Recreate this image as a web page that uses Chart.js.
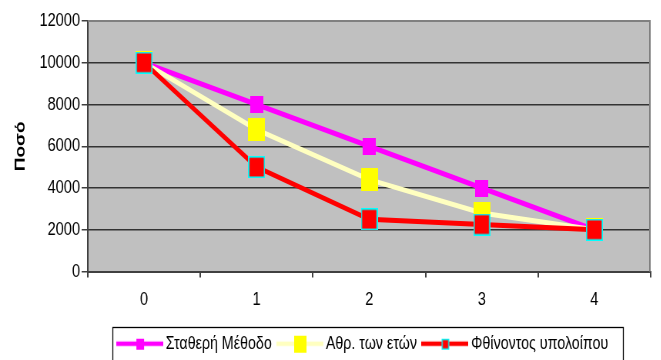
<!DOCTYPE html>
<html>
<head>
<meta charset="utf-8">
<script src="https://cdn.jsdelivr.net/npm/chart.js@4/dist/chart.umd.min.js"></script>
<style>
  html, body { margin: 0; padding: 0; background: #fff; overflow: hidden; }
  #frame { width: 661px; height: 360px; overflow: hidden; position: relative; }
  /* the chart is laid out wide and narrowed horizontally */
  #squeeze { width: 858px; height: 360px; transform: scaleX(0.77); transform-origin: 0 0; }
</style>
</head>
<body>
<div id="frame"><div id="squeeze"><canvas id="chart" width="858" height="360"></canvas></div></div>
<script>
// Depreciation of an asset (cost 10000, residual 2000) over 4 years
const years = ['0', '1', '2', '3', '4'];
const seriesNames = ['Σταθερή Μέθοδο', 'Αθρ. των ετών', 'Φθίνοντος υπολοίπου'];
const straightLine = [10000, 8000, 6000, 4000, 2000];
const sumOfYears = [10000, 6800, 4400, 2800, 2000];
const decliningBalance = [10000, 5000, 2500, 2250, 2000];
const yTickValues = [0, 2000, 4000, 6000, 8000, 10000, 12000];
const yTitle = 'Ποσό';

const FONT = "'Liberation Sans', Arial, sans-serif";
const LEGEND_SHIFT = -6;   // nudges the legend row a little to the left

// rectangular marker drawn on a small canvas, used as a point style
function rectMarker(w, h, fill, edge, edgeW) {
  const c = document.createElement('canvas');
  c.width = w; c.height = h;
  const g = c.getContext('2d');
  g.fillStyle = fill;
  g.fillRect(0, 0, w, h);
  if (edge) {
    g.strokeStyle = edge;
    g.lineWidth = edgeW;
    g.strokeRect(edgeW / 2, edgeW / 2, w - edgeW, h - edgeW);
  }
  return c;
}

// legend swatch: a line segment with the marker in its middle
function legendSwatch(w, h, lineColor, lineW, marker) {
  const c = document.createElement('canvas');
  c.width = w; c.height = h;
  const g = c.getContext('2d');
  g.strokeStyle = lineColor;
  g.lineWidth = lineW;
  g.beginPath();
  g.moveTo(0, h / 2);
  g.lineTo(w, h / 2);
  g.stroke();
  g.drawImage(marker, Math.round((w - marker.width) / 2), Math.round((h - marker.height) / 2));
  return c;
}

const colors = ['#FF00FF', '#FFFFC0', '#FF0000'];
const markers = [
  rectMarker(17, 17, '#FF00FF'),
  rectMarker(22, 23, '#FFFF00'),
  rectMarker(22, 22, '#FF0000', '#00FFFF', 1.6)
];
const swatches = [
  legendSwatch(61, 20, '#FF00FF', 4.5, rectMarker(10, 11, '#FF00FF')),
  legendSwatch(61, 20, '#FFFFC0', 4.5, rectMarker(16, 17, '#FFFF00')),
  legendSwatch(61, 20, '#FF0000', 4.5, rectMarker(10, 11, '#FF0000', '#00FFFF', 1.4))
];

const plotDecor = {
  id: 'plotDecor',
  afterLayout(chart) {
    const lg = chart.legend;
    if (lg) { lg.left += LEGEND_SHIFT; lg.right += LEGEND_SHIFT; }
  },
  beforeDraw(chart) {
    const { ctx, chartArea: a } = chart;
    ctx.save();
    ctx.fillStyle = '#C0C0C0';
    ctx.fillRect(a.left, a.top, a.right - a.left, a.bottom - a.top);
    ctx.restore();
  },
  beforeDatasetsDraw(chart) {
    const { ctx, chartArea: a } = chart;
    ctx.save();
    ctx.strokeStyle = '#808080';
    ctx.lineWidth = 2;
    ctx.beginPath();
    ctx.moveTo(a.left, a.top);
    ctx.lineTo(a.right - 1, a.top);
    ctx.lineTo(a.right - 1, a.bottom);
    ctx.stroke();
    ctx.restore();
  },
  afterDraw(chart) {
    const lg = chart.legend;
    const hb = lg.legendHitBoxes;
    if (!hb || !hb.length) return;
    const first = hb[0], last = hb[hb.length - 1];
    const x0 = first.left - 11;
    const x1 = last.left + last.width + 19;
    const y0 = lg.top + 4;
    const y1 = lg.bottom + 12;
    const ctx = chart.ctx;
    ctx.save();
    ctx.strokeStyle = '#000';
    ctx.lineWidth = 1.3;
    ctx.strokeRect(Math.round(x0) + 0.5, Math.round(y0) + 0.5, Math.round(x1 - x0), Math.round(y1 - y0));
    ctx.restore();
  }
};

Chart.defaults.font.family = FONT;
Chart.defaults.font.size = 18;
Chart.defaults.color = '#000';

new Chart(document.getElementById('chart'), {
  type: 'line',
  data: {
    labels: years,
    datasets: [
      { label: seriesNames[0], data: straightLine, order: 2 },
      { label: seriesNames[1], data: sumOfYears, order: 1 },
      { label: seriesNames[2], data: decliningBalance, order: 0 }
    ].map((d, i) => Object.assign(d, {
      borderColor: colors[i],
      backgroundColor: colors[i],
      borderWidth: 5,
      tension: 0,
      pointStyle: markers[i],
      pointRadius: 8,
      pointHoverRadius: 8,
      clip: false
    }))
  },
  options: {
    responsive: false,
    devicePixelRatio: 1,
    animation: false,
    events: [],
    layout: { padding: { top: 21, right: 2, bottom: -3, left: 0 } },
    scales: {
      x: {
        offset: true,
        afterFit: s => { s.height = 51; },
        ticks: { color: '#000', font: { size: 19 }, padding: 11, maxRotation: 0 },
        grid: { offset: true, drawOnChartArea: false, drawTicks: true, tickLength: 6, color: '#404040', lineWidth: 2 },
        border: { color: '#404040', width: 2 }
      },
      y: {
        min: 0,
        max: 12000,
        afterBuildTicks: s => { s.ticks = yTickValues.map(v => ({ value: v })); },
        afterFit: s => { s.width = 114; },
        ticks: { color: '#000', font: { size: 19 }, padding: 2, callback: v => String(v) },
        grid: { color: '#333', lineWidth: 1.5, tickLength: 8, tickColor: '#404040' },
        border: { color: '#404040', width: 2 },
        title: { display: true, text: yTitle, color: '#000', font: { size: 19, weight: 'bold' }, padding: { top: 15, bottom: 0 } }
      }
    },
    plugins: {
      tooltip: { enabled: false },
      legend: {
        position: 'bottom',
        fullSize: false,
        labels: {
          usePointStyle: true,
          pointStyleWidth: 49,
          boxHeight: 18,
          padding: 12,
          color: '#000',
          font: { size: 18.5 },
          sort: (a, b) => a.datasetIndex - b.datasetIndex,
          generateLabels(chart) {
            const items = Chart.defaults.plugins.legend.labels.generateLabels(chart);
            items.forEach(it => { it.pointStyle = swatches[it.datasetIndex]; });
            return items;
          }
        }
      }
    }
  },
  plugins: [plotDecor]
});
</script>
</body>
</html>
